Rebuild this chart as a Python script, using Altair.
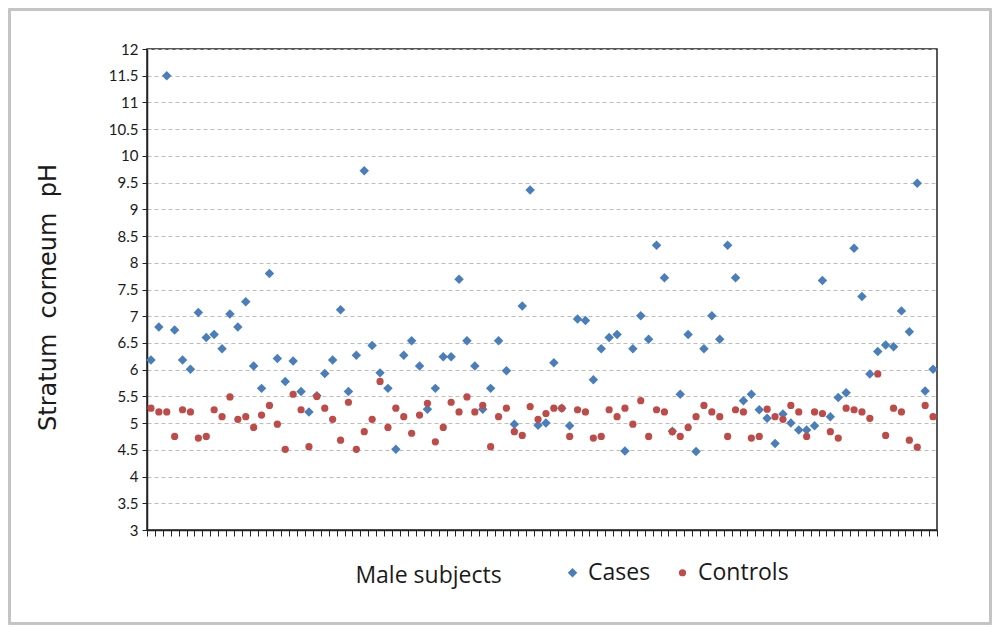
import altair as alt
import pandas as pd

subjects = list(range(1, 101))

cases = [6.18, 6.80, 11.5, 6.74, 6.18, 6.01, 7.07, 6.60, 6.66, 6.39,
         7.04, 6.80, 7.27, 6.07, 5.65, 7.80, 6.21, 5.78, 6.16, 5.59,
         5.21, 5.51, 5.93, 6.18, 7.12, 5.59, 6.27, 9.72, 6.45, 5.94,
         5.65, 4.51, 6.27, 6.54, 6.07, 5.26, 5.65, 6.24, 6.24, 7.69,
         6.54, 6.07, 5.26, 5.65, 6.54, 5.98, 4.98, 7.19, 9.36, 4.96,
         5.00, 6.13, 5.28, 4.95, 6.95, 6.92, 5.81, 6.39, 6.60, 6.66,
         4.48, 6.39, 7.01, 6.57, 8.33, 7.72, 4.85, 5.54, 6.66, 4.47,
         6.39, 7.01, 6.57, 8.33, 7.72, 5.42, 5.54, 5.25, 5.09, 4.62,
         5.17, 5.00, 4.87, 4.87, 4.95, 7.67, 5.12, 5.48, 5.57, 8.27,
         7.37, 5.92, 6.34, 6.46, 6.43, 7.10, 6.71, 9.49, 5.60, 6.01]

controls = [5.28, 5.21, 5.21, 4.75, 5.25, 5.21, 4.72, 4.75, 5.25, 5.12,
            5.49, 5.07, 5.12, 4.92, 5.15, 5.33, 4.98, 4.51, 5.54, 5.25,
            4.56, 5.50, 5.28, 5.07, 4.68, 5.39, 4.51, 4.84, 5.07, 5.78,
            4.92, 5.28, 5.12, 4.81, 5.15, 5.37, 4.65, 4.92, 5.39, 5.21,
            5.49, 5.21, 5.33, 4.56, 5.12, 5.28, 4.84, 4.77, 5.31, 5.07,
            5.18, 5.28, 5.28, 4.75, 5.25, 5.21, 4.72, 4.75, 5.25, 5.12,
            5.28, 4.98, 5.42, 4.75, 5.25, 5.21, 4.84, 4.75, 4.92, 5.12,
            5.33, 5.21, 5.12, 4.75, 5.25, 5.21, 4.72, 4.75, 5.26, 5.12,
            5.07, 5.33, 5.21, 4.75, 5.21, 5.18, 4.84, 4.72, 5.28, 5.25,
            5.21, 5.09, 5.92, 4.77, 5.28, 5.21, 4.68, 4.55, 5.33, 5.12]

series_names = ["Cases", "Controls"]
y_ticks = [3, 3.5, 4, 4.5, 5, 5.5, 6, 6.5, 7, 7.5, 8, 8.5, 9, 9.5, 10, 10.5, 11, 11.5, 12]

df = pd.DataFrame({
    "subject": subjects + subjects,
    "series": [series_names[0]] * len(cases) + [series_names[1]] * len(controls),
    "ph": cases + controls,
})

FONT = "Lato"
TFONT = "Open Sans"
W, H = 790, 481
GAP = "\u00a0\u00a0"

legend_kw = dict(orient="none", legendX=414, legendY=512,
                 direction="horizontal", title=None,
                 labelFont=TFONT, labelFontSize=23, labelColor="#1a1a1a",
                 symbolSize=45, columnPadding=20, labelOffset=4,
                 symbolStrokeWidth=0)

points = alt.Chart(df).mark_point(filled=True, opacity=1, strokeWidth=0).encode(
    x=alt.X("subject:O",
            scale=alt.Scale(type="band", paddingInner=0, paddingOuter=0),
            axis=alt.Axis(labels=False, tickBand="extent", ticks=True, tickSize=6,
                          tickColor="#222222", domainColor="#222222", domainWidth=1.5,
                          title="Male subjects", titleFont=TFONT, titleFontSize=23,
                          titleFontWeight="normal", titleColor="#1a1a1a",
                          titleX=281, titleY=45, titleAlign="center",
                          titleBaseline="middle", grid=False)),
    y=alt.Y("ph:Q",
            scale=alt.Scale(domain=[3, 12], nice=False, zero=False),
            axis=alt.Axis(values=y_ticks, format="~g", labelFont=FONT, labelFontSize=15,
                          labelColor="#1a1a1a", tickSize=5, tickColor="#222222",
                          domainColor="#222222", domainWidth=1.5, labelPadding=4,
                          grid=True, gridColor="#bdbdbd", gridDash=[4, 3], gridWidth=1,
                          title="Stratum" + GAP + "corneum" + GAP + "pH",
                          titleFont="DejaVu Sans", titleFontSize=24,
                          titleFontWeight="normal", titleColor="#1a1a1a",
                          titleX=-99, titleY=248, titleAngle=-90, titleAlign="center",
                          titleBaseline="middle")),
    color=alt.Color("series:N",
                    scale=alt.Scale(domain=series_names, range=["#4a7ebb", "#be4b48"]),
                    legend=alt.Legend(**legend_kw)),
    shape=alt.Shape("series:N",
                    scale=alt.Scale(domain=series_names, range=["diamond", "circle"]),
                    legend=alt.Legend(**legend_kw)),
    size=alt.Size("series:N",
                  scale=alt.Scale(domain=series_names, range=[90, 52]),
                  legend=None),
)

border = alt.Chart(df).mark_rect(fill="transparent", stroke="#c4c4c4", strokeWidth=1.5).encode(
    x=alt.value(-137.5), x2=alt.value(W + 53.5),
    y=alt.value(-39.5), y2=alt.value(H + 93.5),
)

chart = alt.layer(border, points).properties(
    width=W, height=H,
    autosize=alt.AutoSizeParams(type="none"),
    padding={"left": 139, "top": 41, "right": 55, "bottom": 95},
    background="white",
).configure_view(
    stroke="#222222", strokeWidth=1.5
)

chart.save("out.html", embed_options={"renderer": "svg", "actions": False})
